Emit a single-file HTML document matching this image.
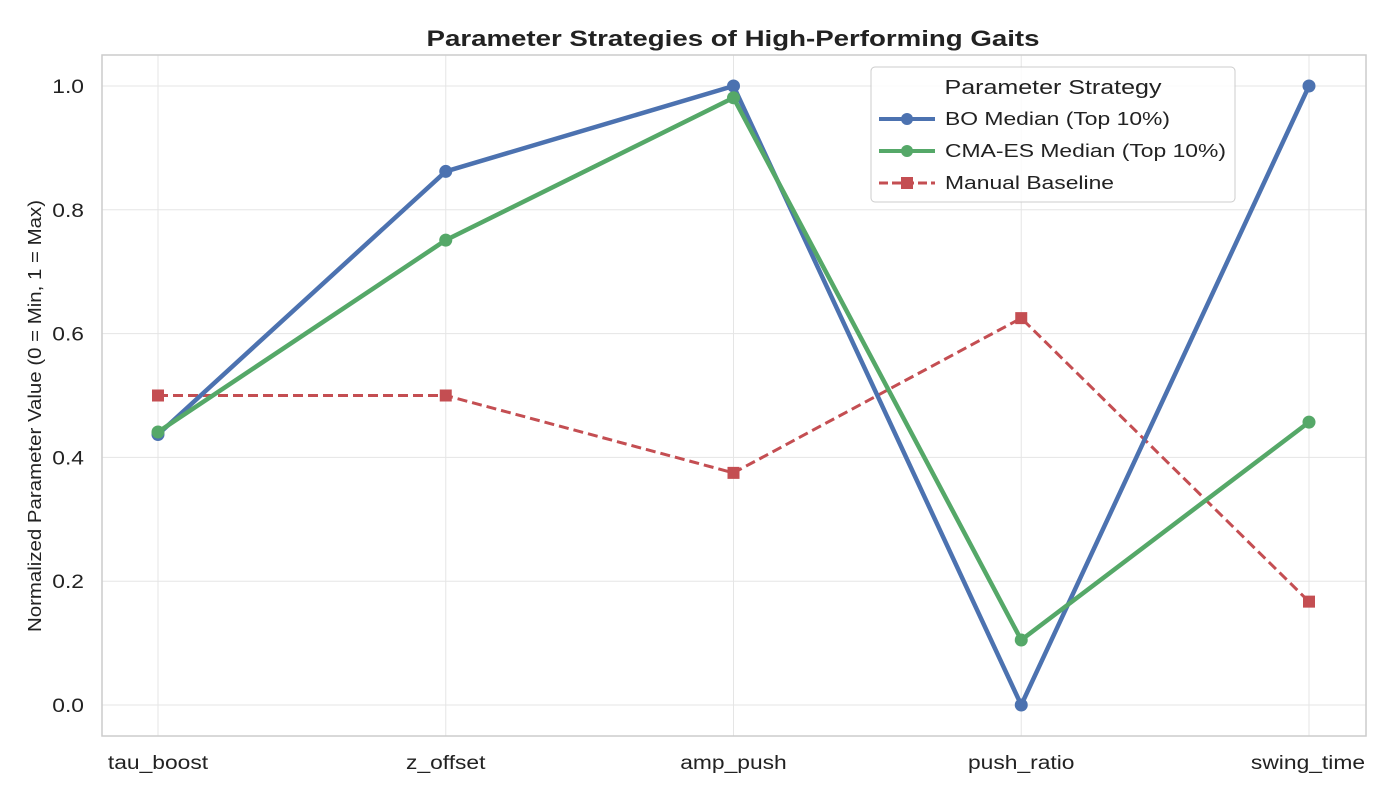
<!DOCTYPE html>
<html><head><meta charset="utf-8"><style>
body{margin:0;background:#fff;}
svg{font-family:"Liberation Sans",Arial,sans-serif;}
</style></head><body>
<svg id="chart" width="1400" height="800" xmlns="http://www.w3.org/2000/svg">
<rect width="1400" height="800" fill="#fff"/>
<text x="733" y="46" text-anchor="middle" font-size="22" font-weight="bold" fill="#222" textLength="613" lengthAdjust="spacingAndGlyphs">Parameter Strategies of High-Performing Gaits</text>
<g id="grid"></g>
<g id="series"></g>
<rect x="102" y="55" width="1264" height="681" fill="none" stroke="#ccc" stroke-width="1.5"/>
<text transform="translate(41,416) rotate(-90)" text-anchor="middle" font-size="18" fill="#222" textLength="432" lengthAdjust="spacingAndGlyphs">Normalized Parameter Value (0 = Min, 1 = Max)</text>
<g>
<rect x="871" y="67" width="364" height="135" rx="4" fill="#fff" fill-opacity="0.85" stroke="#ccc"/>
<text x="1053" y="94" text-anchor="middle" font-size="20" fill="#222" textLength="217" lengthAdjust="spacingAndGlyphs">Parameter Strategy</text>
<g><line x1="879" y1="119" x2="935" y2="119" stroke="#4c72b0" stroke-width="4"/><circle cx="907" cy="119" r="6" fill="#4c72b0"/><text x="945" y="125" font-size="18" fill="#222" textLength="225" lengthAdjust="spacingAndGlyphs">BO Median (Top 10%)</text></g>
<g><line x1="879" y1="151" x2="935" y2="151" stroke="#55a868" stroke-width="4"/><circle cx="907" cy="151" r="6" fill="#55a868"/><text x="945" y="157" font-size="18" fill="#222" textLength="281" lengthAdjust="spacingAndGlyphs">CMA-ES Median (Top 10%)</text></g>
<g><line x1="879" y1="183" x2="935" y2="183" stroke="#c44e52" stroke-width="3" stroke-dasharray="9,4"/><rect x="901" y="177" width="12" height="12" fill="#c44e52"/><text x="945" y="189" font-size="18" fill="#222" textLength="169" lengthAdjust="spacingAndGlyphs">Manual Baseline</text></g>
</g>
</svg>
<script>
const categories=["tau_boost","z_offset","amp_push","push_ratio","swing_time"];
const boValues=[0.437,0.862,1.0,0.0,1.0];
const cmaValues=[0.441,0.751,0.981,0.105,0.457];
const manualValues=[0.5,0.5,0.375,0.625,0.167];
const yTicks=[0.0,0.2,0.4,0.6,0.8,1.0];
const NS="http://www.w3.org/2000/svg";
const xS=i=>158+i*287.75;
const yS=v=>705-v*619;
const grid=document.getElementById('grid'),ser=document.getElementById('series');
function mk(tag,attrs,parent){const e=document.createElementNS(NS,tag);for(const k in attrs)e.setAttribute(k,attrs[k]);parent.appendChild(e);return e;}
function stretch(t,f){const w=t.getComputedTextLength();t.setAttribute('textLength',(w*f).toFixed(1));t.setAttribute('lengthAdjust','spacingAndGlyphs');}
yTicks.forEach(t=>{
 const l=mk('line',{x1:102,x2:1366,y1:yS(t),y2:yS(t),stroke:'#e5e5e5','stroke-width':1},grid);
 
 
 const tx=mk('text',{x:84,y:yS(t)+7,'text-anchor':'end','font-size':19,fill:'#222'},grid);
 tx.textContent=t.toFixed(1);
 
 
 stretch(tx,1.2);
});
categories.forEach((c,i)=>{
 const l=mk('line',{x1:xS(i),x2:xS(i),y1:55,y2:736,stroke:'#e5e5e5','stroke-width':1},grid);
 
 
 const tx=mk('text',{x:xS(i)+(i===4?-1:0),y:769,'text-anchor':'middle','font-size':19,fill:'#222'},grid);
 tx.textContent=c;
 
 
 stretch(tx,1.2);
});
function series(vals,color,name,dash,square){
 const g=mk('g',{},ser);
 
 
 const p=mk('polyline',{points:vals.map((v,i)=>xS(i)+','+yS(v)).join(' '),fill:'none',stroke:color,'stroke-width':dash?3:4.5,'stroke-linejoin':'round'},g);
 if(dash)p.setAttribute('stroke-dasharray','10,5');
 vals.forEach((v,i)=>{
  let m;
  if(square)m=mk('rect',{x:xS(i)-6,y:yS(v)-6,width:12,height:12,fill:color},g);
  else m=mk('circle',{cx:xS(i),cy:yS(v),r:6.5,fill:color},g);
  
  
 });
}
series(manualValues,'#c44e52','manual-baseline-series',true,true);
series(boValues,'#4c72b0','bo-median-series',false,false);
series(cmaValues,'#55a868','cmaes-median-series',false,false);
</script>
</body></html>
